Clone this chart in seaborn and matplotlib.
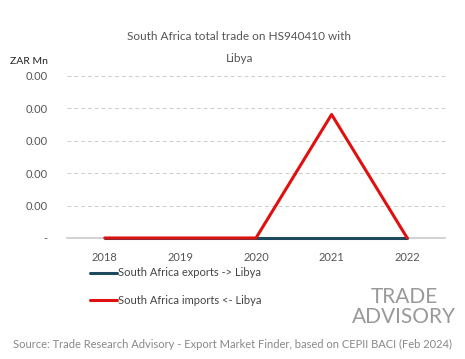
import matplotlib.pyplot as plt
import seaborn as sns
import pandas as pd
from matplotlib.ticker import FuncFormatter

sns.set_theme(style="white")
plt.rcParams["font.family"] = ["Lato", "DejaVu Sans"]

years = [2018, 2019, 2020, 2021, 2022]
exports = [0, 0, 0, 0, 0]
imports = [0, 0, 0, 0.00305, 0]
series_names = ["South Africa exports -> Libya", "South Africa imports <- Libya"]
palette = ["#1d4a5c", "#e01010"]
yticks = [0, 0.0008, 0.0016, 0.0024, 0.0032, 0.004]

df = pd.DataFrame({
    "year": years * 2,
    "value": exports + imports,
    "series": [series_names[0]] * len(years) + [series_names[1]] * len(years),
})

fig = plt.figure(figsize=(4.65, 3.59), dpi=100)
ax = fig.add_axes([67 / 465, 1 - 238 / 359, 378 / 465, (238 - 76) / 359])

sns.lineplot(data=df, x="year", y="value", hue="series", palette=palette,
             linewidth=2.2, ax=ax, legend=True)
for line in ax.lines:
    line.set_clip_on(False)

ax.set_xlim(2017.5, 2022.5)
ax.set_ylim(0, yticks[-1])
ax.set_yticks(yticks)
ax.yaxis.set_major_formatter(FuncFormatter(lambda v, p: "-" if v == 0 else f"{v:.2f}"))
ax.set_xticks(years)
ax.grid(axis="y", color="#cccccc", linestyle=(0, (4, 3)), linewidth=0.7)
for s in ["top", "right", "left"]:
    ax.spines[s].set_visible(False)
ax.spines["bottom"].set_color("#cccccc")
ax.spines["bottom"].set_zorder(0)
ax.tick_params(axis="both", length=0, labelsize=8, labelcolor="#555555", pad=10)
ax.tick_params(axis="y", pad=14)
ax.set_xlabel("")
ax.set_ylabel("")

handles, labels = ax.get_legend_handles_labels()
ax.legend(handles, labels, loc="upper left", bbox_to_anchor=(0.035, -0.12),
          frameon=False, fontsize=8, labelcolor="#444444", handlelength=2.4,
          handletextpad=0.1, labelspacing=1.5)

fig.text(0.515, 1 - 37 / 359, "South Africa total trade on HS940410 with",
         ha="center", va="center", fontsize=8.5, color="#555555")
fig.text(0.515, 1 - 58 / 359, "Libya", ha="center", va="center", fontsize=8.5, color="#555555")
fig.text(10 / 465, 1 - 61 / 359, "ZAR Mn", ha="left", va="center", fontsize=7.5, color="#222222")

fig.text(404 / 465, 1 - 307 / 359, "TRADE\nADVISORY", ha="center", va="center",
         fontsize=15, color="#999999", linespacing=0.95)
fig.text(0.5, 1 - 344 / 359,
         "Source: Trade Research Advisory - Export Market Finder, based on CEPII BACI (Feb 2024)",
         ha="center", va="center", fontsize=8, color="#888888")

plt.savefig("out.png", dpi=100)
